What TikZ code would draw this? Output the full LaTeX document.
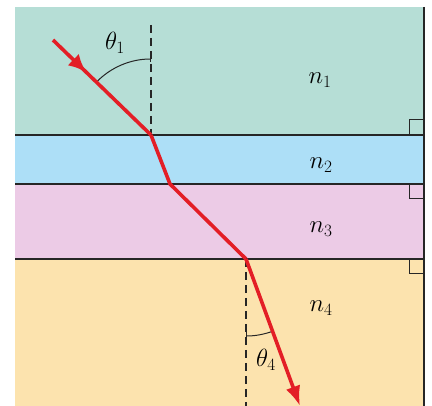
\documentclass[tikz,border=0pt]{standalone}
\usetikzlibrary{arrows.meta,decorations.markings}
\definecolor{layerA}{HTML}{B6DED6}
\definecolor{layerB}{HTML}{ADDFF7}
\definecolor{layerC}{HTML}{ECCBE6}
\definecolor{layerD}{HTML}{FCE3AE}
\definecolor{rayred}{HTML}{E31E26}
\tikzset{
  ray/.style={draw=rayred,line width=3.6pt},
  normal/.style={dash pattern=on 8pt off 5pt,line width=1.6pt,draw=black!85},
  iface/.style={line width=1.8pt,draw=black!85},
  thinline/.style={line width=1pt,draw=black!85},
  label/.style={font=\fontsize{25}{30}\selectfont}
}
\begin{document}
\begin{tikzpicture}[x=1pt,y=1pt]
  \useasboundingbox (0,0) rectangle (432,-406);
  % layers
  \fill[layerA] (15,-7) rectangle (424,-135);
  \fill[layerB] (15,-135) rectangle (424,-184);
  \fill[layerC] (15,-184) rectangle (424,-259);
  \fill[layerD] (15,-259) rectangle (424,-406);
  \draw[iface] (15,-135) -- (424,-135);
  \draw[iface] (15,-184) -- (424,-184);
  \draw[iface] (15,-259) -- (424,-259);
  \draw[iface] (424,-7) -- (424,-406);
  % right angle marks
  \draw[thinline] (409,-135) -- (409,-120) -- (424,-120);
  \draw[thinline] (409,-184) -- (409,-199) -- (424,-199);
  \draw[thinline] (409,-259) -- (409,-274) -- (424,-274);
  % ray points
  \coordinate (in) at (53,-40);
  \coordinate (p1) at (151,-135);
  \coordinate (p2) at (170,-184);
  \coordinate (p3) at (246,-259);
  \coordinate (out) at (300,-406);
  \coordinate (top) at (151,-25);
  \coordinate (bot) at (246,-406);
  % normals and angles
  \draw[normal] (top) -- (p1);
  \draw[normal] (p3) -- (bot);
  \draw[thinline,-{Bar[width=7pt]}] (p1) ++(136:76) arc[start angle=136,end angle=90,radius=76];
  \draw[thinline,-{Bar[width=7pt]}] (p3) ++(-70:77) arc[start angle=-70,end angle=-90,radius=77];
  % ray
  \draw[ray,postaction={decorate},decoration={markings,
    mark=at position 0.34 with {\arrow{Latex[length=18pt,width=16pt]}}}] (in) -- (p1);
  \draw[ray,line join=miter] (p1) -- (p2) -- (p3);
  \draw[ray,-{Latex[length=20pt,width=15pt]}] (p3) -- (out);
  % labels
  \node[label] (th1) at (115,-43) {$\theta_1$};
  \node[label] (th4) at (266,-360) {$\theta_4$};
  \node[label] (n1) at (320,-80) {$n_1$};
  \node[label] (n2) at (321,-165) {$n_2$};
  \node[label] (n3) at (321,-229) {$n_3$};
  \node[label] (n4) at (321,-308) {$n_4$};
\end{tikzpicture}
\end{document}
